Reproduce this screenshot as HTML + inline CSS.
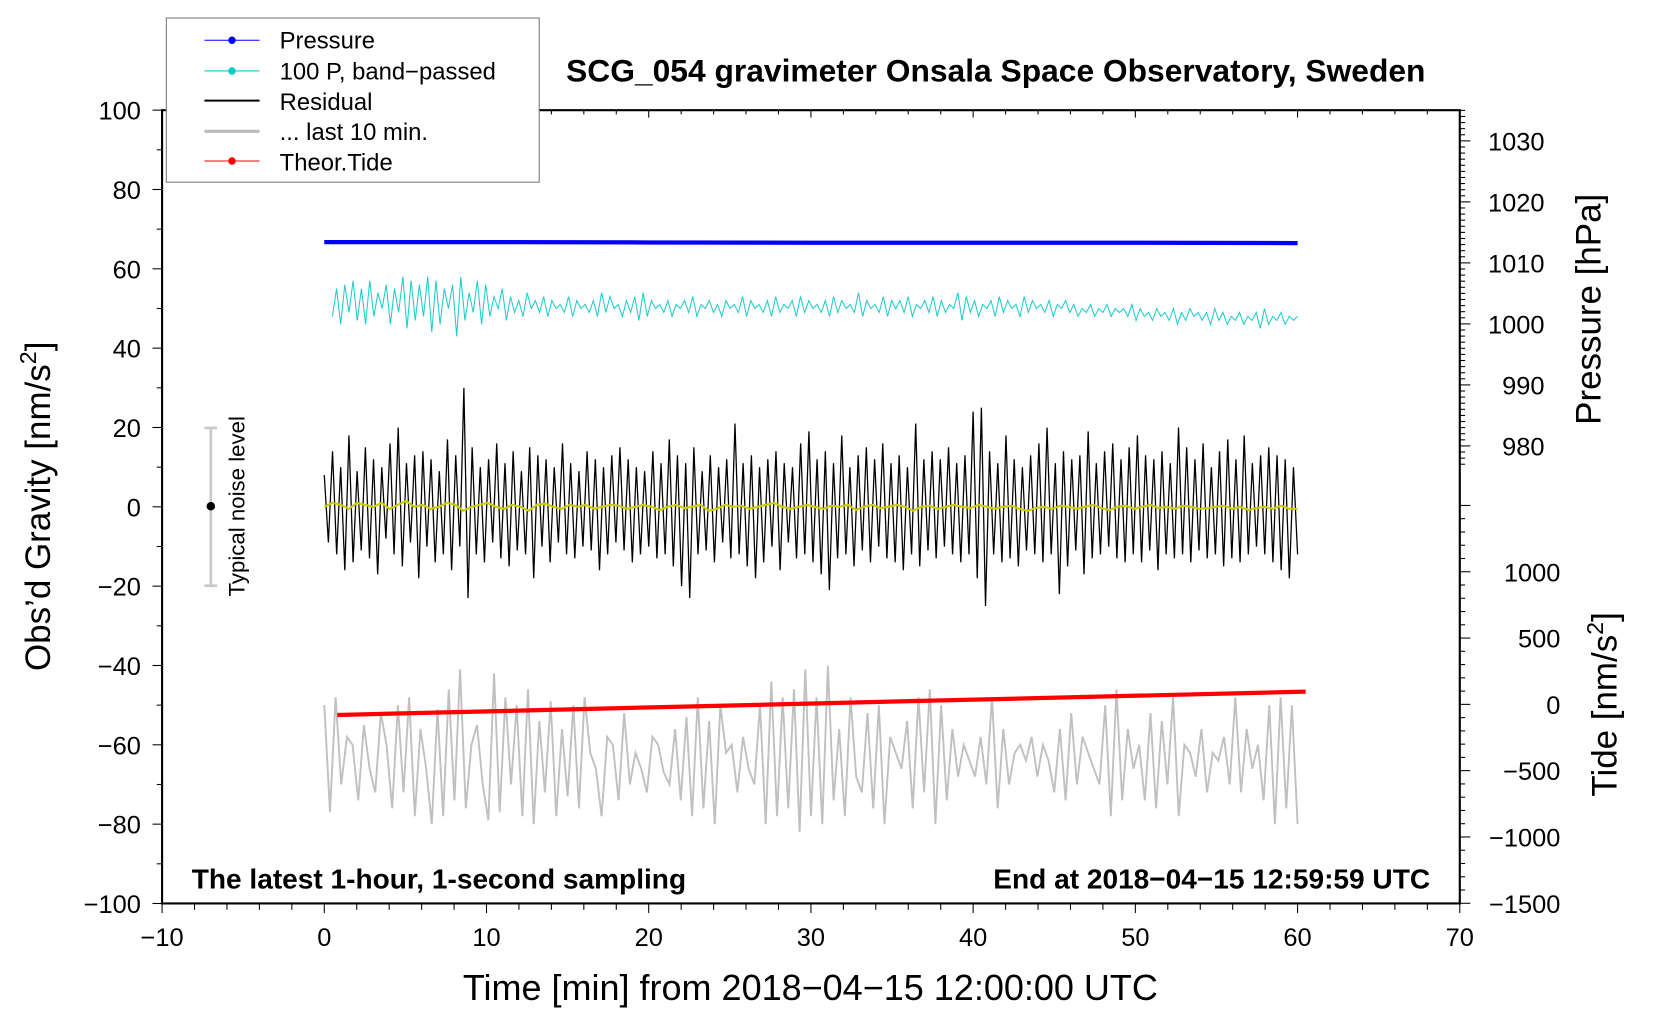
<!DOCTYPE html>
<html><head><meta charset="utf-8"><style>
html,body{margin:0;padding:0;background:#fff;}
svg{display:block;font-family:"Liberation Sans",Arial,sans-serif;}
</style></head><body>
<svg id="chart" width="1660" height="1020" viewBox="0 0 1567 963" preserveAspectRatio="none" xmlns="http://www.w3.org/2000/svg">
<rect x="0" y="0" width="1567" height="963" fill="#fff"/>
<g id="marks"></g>
<g id="axes"></g>
<text x="940" y="77" font-size="30" font-weight="bold" text-anchor="middle">SCG_054 gravimeter Onsala Space Observatory, Sweden</text>
<text x="181" y="839" font-size="26.5" font-weight="bold">The latest 1-hour, 1-second sampling</text>
<text x="1350" y="839" font-size="26.5" font-weight="bold" text-anchor="end">End at 2018−04−15 12:59:59 UTC</text>
<text x="765" y="944" font-size="34" text-anchor="middle">Time [min] from 2018−04−15 12:00:00 UTC</text>
<text transform="translate(47,478) rotate(-90)" font-size="33" text-anchor="middle">Obs’d Gravity [nm/s<tspan dy="-13" font-size="22">2</tspan><tspan dy="13">]</tspan></text>
<text transform="translate(1511,292) rotate(-90)" font-size="33" text-anchor="middle">Pressure [hPa]</text>
<text transform="translate(1526,665) rotate(-90)" font-size="33" text-anchor="middle">Tide [nm/s<tspan dy="-13" font-size="22">2</tspan><tspan dy="13">]</tspan></text>
<g>
<line x1="199" y1="404" x2="199" y2="553" stroke="#c8c8c8" stroke-width="2.5"/>
<line x1="193" y1="404" x2="205" y2="404" stroke="#c8c8c8" stroke-width="2.5"/>
<line x1="193" y1="553" x2="205" y2="553" stroke="#c8c8c8" stroke-width="2.5"/>
<circle cx="199" cy="478" r="4" fill="#000"/>
<text transform="translate(231,478) rotate(-90)" font-size="21" text-anchor="middle">Typical noise level</text>
</g>
<g>
<rect x="157" y="17" width="352" height="155" fill="#fff" stroke="#777" stroke-width="1"/>
<g><line x1="193" y1="38" x2="245" y2="38" stroke="#00f"/><circle cx="219" cy="38" r="3.5" fill="#00f"/><text x="264" y="46" font-size="22.5">Pressure</text></g>
<g><line x1="193" y1="67" x2="245" y2="67" stroke="#0cc"/><circle cx="219" cy="67" r="3.5" fill="#0cc"/><text x="264" y="75" font-size="22.5">100 P, band−passed</text></g>
<g><line x1="193" y1="95" x2="245" y2="95" stroke="#000" stroke-width="2"/><text x="264" y="104" font-size="22.5">Residual</text></g>
<g><line x1="193" y1="124" x2="245" y2="124" stroke="#bbb" stroke-width="3"/><text x="264" y="132" font-size="22.5">... last 10 min.</text></g>
<g><line x1="193" y1="152" x2="245" y2="152" stroke="#f00"/><circle cx="219" cy="152" r="3.5" fill="#f00"/><text x="264" y="161" font-size="22.5">Theor.Tide</text></g>
</g>
</svg>
<script>
const xTicks=[-10,0,10,20,30,40,50,60,70];
const yTicks=[100,80,60,40,20,0,-20,-40,-60,-80,-100];
const pTicks=[1030,1020,1010,1000,990,980];
const tTicks=[1000,500,0,-500,-1000,-1500];
const pressT=[0,10,20,30,40,50,60];
const pressV=[1013.4,1013.4,1013.35,1013.3,1013.3,1013.3,1013.25];
const tideT=[0.8,60.5];
const tideV=[-80,96];
const residual=[8,-9,14,-12,10,-16,18,-14,9,-11,15,-13,12,-17,10,-8,16,-12,20,-15,11,-9,13,-18,14,-10,12,-14,9,-12,17,-16,13,-10,30,-23,15,-12,10,-14,12,-9,16,-13,11,-15,14,-11,9,-12,15,-18,13,-10,12,-14,10,-9,16,-12,11,-13,9,-10,14,-11,12,-16,10,-12,13,-9,15,-11,12,-14,10,-12,9,-10,14,-13,11,-12,17,-15,13,-20,11,-23,15,-12,9,-11,13,-14,10,-9,12,-13,21,-12,11,-15,13,-18,10,-14,12,-10,14,-16,11,-9,10,-13,16,-12,19,-14,12,-17,14,-21,11,-13,18,-12,10,-15,13,-11,15,-14,12,-10,16,-13,11,-14,13,-16,10,-12,21,-15,12,-11,14,-13,12,-10,15,-12,11,-14,13,-12,24,-18,25,-25,14,-12,11,-14,18,-13,12,-15,10,-11,13,-12,16,-14,20,-12,11,-22,14,-15,12,-11,13,-17,19,-13,11,-12,14,-10,16,-13,12,-14,15,-12,18,-14,13,-11,12,-16,14,-12,11,-13,20,-12,15,-14,12,-11,16,-13,10,-12,14,-15,17,-13,12,-14,18,-12,11,-10,13,-12,15,-14,13,-16,12,-18,10,-12];
const smooth=[0,1,0.5,-0.5,1,0.5,0,1,-0.5,0.5,1.5,0,0.5,-0.5,0,1,0.5,-1,0,0.5,1,0,-0.5,0.5,0,-1,0.5,0.8,0,-0.5,0.5,0,0.5,-0.5,0,0.5,0.3,-0.5,0,0.5,0,-0.8,0,0.5,-0.3,0,0.5,-1,-0.5,0.5,0,0.3,-0.5,0,0.5,1,0,-0.5,0,0.5,0,-0.5,0.3,0,0.5,-0.8,0,0.5,-0.3,0,0.5,0,-1,0,0.3,-0.5,0,0.5,0,-0.3,0.5,0,-0.5,0,0.3,-0.5,-1,-0.3,0,-0.5,0.3,0,-0.5,0,0.5,-0.3,-0.8,0,0.3,-0.5,0,0.5,-0.3,0,-0.5,0.3,0,-0.5,-0.3,0,0.3,-0.5,0,-0.8,-0.3,0,-0.5,0.3,-0.5,-0.5];
const cyan=[48,55,46,56,49,57,47,55,46,57,48,54,50,56,46,55,49,58,45,57,47,56,48,58,44,57,46,55,50,56,43,58,47,54,49,57,46,56,48,53,50,55,47,53,49,52,48,54,50,52,49,53,48,52,50,51,49,53,48,52,50,51,49,52,48,54,49,53,50,51,48,52,49,53,47,54,48,52,50,51,49,52,48,51,50,52,49,53,48,51,50,52,49,51,48,52,50,51,49,53,48,52,50,51,49,52,48,53,49,51,50,52,48,53,49,52,50,51,49,52,48,53,49,52,50,51,49,54,48,52,50,51,49,53,48,52,50,52,49,53,48,51,50,52,49,53,48,52,49,51,50,54,47,53,49,52,48,51,50,52,48,53,49,52,50,51,48,53,49,52,50,51,49,52,48,51,50,52,49,51,48,50,49,51,48,50,49,51,48,50,49,50,48,51,47,50,48,49,47,50,48,49,47,50,46,49,47,50,48,49,47,49,46,50,47,49,46,48,47,49,46,48,47,49,45,50,46,48,47,49,46,48,47,48];
const gray=[-50,-77,-48,-70,-58,-60,-74,-55,-66,-72,-52,-60,-76,-50,-72,-48,-78,-56,-66,-80,-51,-78,-46,-74,-41,-76,-60,-55,-70,-79,-42,-77,-48,-70,-50,-78,-46,-80,-54,-72,-49,-78,-56,-73,-50,-76,-48,-62,-66,-78,-58,-60,-74,-52,-70,-62,-66,-72,-58,-60,-67,-70,-56,-74,-53,-78,-48,-76,-54,-80,-50,-62,-60,-72,-58,-66,-70,-50,-80,-44,-78,-48,-76,-46,-82,-41,-78,-48,-80,-40,-74,-56,-78,-48,-68,-72,-52,-76,-50,-80,-58,-62,-66,-54,-76,-48,-72,-46,-80,-50,-74,-56,-68,-60,-64,-68,-58,-70,-48,-76,-56,-70,-62,-60,-64,-58,-68,-60,-64,-72,-56,-74,-52,-70,-58,-62,-66,-70,-50,-78,-46,-74,-56,-66,-60,-74,-52,-76,-54,-70,-48,-78,-60,-62,-68,-56,-72,-62,-64,-58,-70,-48,-72,-56,-66,-60,-74,-50,-80,-48,-76,-50,-80];

const NS='http://www.w3.org/2000/svg';
const X=t=>153+(t+10)*(1225/80);
const Y=v=>104+(100-v)*(749/200);
const YP=p=>133+(1030-p)*(288/50);
const YT=v=>665-v*(313/2500);
const marks=document.getElementById('marks');
const axes=document.getElementById('axes');
function mk(tag,attrs,parent){const e=document.createElementNS(NS,tag);for(const k in attrs)e.setAttribute(k,attrs[k]);parent.appendChild(e);return e;}
function series(vals,t0,t1){const n=vals.length;return vals.map((v,i)=>[t0+(t1-t0)*i/(n-1),v]);}
function pts(arr,yf){return arr.map(p=>X(p[0]).toFixed(1)+','+yf(p[1]).toFixed(1)).join(' ');}

let el;
el=mk('polyline',{points:pts(series(gray,0,60),Y),fill:'none',stroke:'#c0c0c0','stroke-width':1.8},marks);


el=mk('polyline',{points:pts(series(residual,0,60),Y),fill:'none',stroke:'#000','stroke-width':1.2},marks);


el=mk('polyline',{points:pts(series(smooth,0,60),Y),fill:'none',stroke:'#cccc00','stroke-width':2},marks);


el=mk('polyline',{points:pts(series(cyan,0.5,60),Y),fill:'none',stroke:'#22cccc','stroke-width':1},marks);


el=mk('polyline',{points:pts(pressT.map((t,i)=>[t,pressV[i]]),YP),fill:'none',stroke:'#00f','stroke-width':4},marks);


el=mk('polyline',{points:pts(tideT.map((t,i)=>[t,tideV[i]]),YT),fill:'none',stroke:'#f00','stroke-width':4},marks);



el=mk('path',{d:`M153,104 H1378 V853 H153 Z`,fill:'none',stroke:'#000','stroke-width':2},axes);


for(let t=-10;t<=70;t+=2){const maj=t%10===0;mk('line',{x1:X(t),x2:X(t),y1:853,y2:maj?862:859,stroke:'#000','stroke-width':1},axes);mk('line',{x1:X(t),x2:X(t),y1:104,y2:maj?111:108,stroke:'#000','stroke-width':1},axes);}
xTicks.forEach(t=>{el=mk('text',{x:X(t),y:893,'font-size':24,'text-anchor':'middle'},axes);el.textContent=(t<0?'−':'')+Math.abs(t);

});
for(let v=-100;v<=100;v+=10){const maj=v%20===0;mk('line',{x1:maj?144:148,x2:153,y1:Y(v),y2:Y(v),stroke:'#000','stroke-width':1},axes);}
yTicks.forEach(v=>{el=mk('text',{x:133,y:Y(v)+9,'font-size':24,'text-anchor':'end'},axes);el.textContent=(v<0?'−':'')+Math.abs(v);

});
for(let p=975;p<=1035;p++){const y=YP(p);if(y<104||y>440)continue;const maj=p%10===0;mk('line',{x1:1378,x2:maj?1388:1383,y1:y,y2:y,stroke:'#000','stroke-width':1},axes);}
pTicks.forEach(p=>{el=mk('text',{x:1458,y:YP(p)+9,'font-size':24,'text-anchor':'end'},axes);el.textContent=p;

});
for(let v=-1500;v<=1500;v+=100){const y=YT(v);if(y<445||y>853)continue;const maj=v%500===0;mk('line',{x1:1378,x2:maj?1388:1383,y1:y,y2:y,stroke:'#000','stroke-width':1},axes);}
tTicks.forEach(v=>{el=mk('text',{x:1473,y:YT(v)+9,'font-size':24,'text-anchor':'end'},axes);el.textContent=(v<0?'−':'')+Math.abs(v);

});
</script>
</body></html>
